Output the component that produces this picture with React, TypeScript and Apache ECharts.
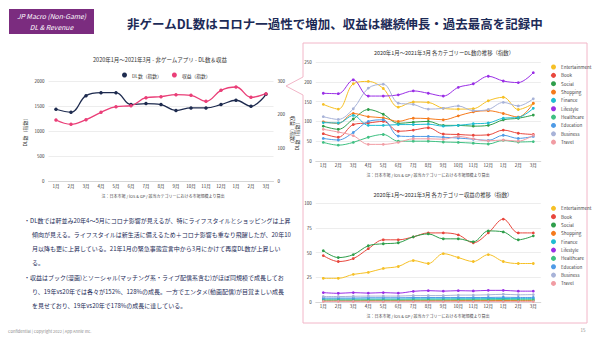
import React, { useEffect, useRef } from 'react';
import * as echarts from 'echarts';

const months = ['1月', '2月', '3月', '4月', '5月', '6月', '7月', '8月', '9月', '10月', '11月', '12月', '1月', '2月', '3月'];

const dlIndex = [1435, 1375, 1707, 1767, 1767, 1528, 1548, 1528, 1409, 1462, 1462, 1528, 1615, 1495, 1734];
const revenueIndex = [183, 170, 184, 206, 223, 226, 250, 253, 259, 257, 239, 272, 282, 251, 262];

const categories = ['Entertainment', 'Book', 'Social', 'Shopping', 'Finance', 'Lifestyle', 'Healthcare', 'Education', 'Business', 'Travel'];
const categoryColors = ['#f6c026', '#e8473d', '#2f9e4b', '#f57a1c', '#1fbcd2', '#9a2fe6', '#3fc082', '#4f9be6', '#a8b3d8', '#f19ca3'];

const dlEntertainment = [143, 131, 195, 201, 183, 136, 149, 148, 133, 131, 132, 152, 161, 130, 145];
const dlBook = [69, 60, 92, 96, 100, 75, 78, 84, 68, 67, 65, 66, 78, 70, 67];
const dlSocial = [88, 80, 106, 130, 118, 95, 98, 100, 90, 90, 88, 90, 104, 108, 116];
const dlShopping = [99, 95, 120, 112, 109, 100, 108, 107, 104, 114, 124, 127, 120, 111, 146];
const dlFinance = [97, 96, 115, 90, 90, 92, 92, 93, 88, 90, 94, 96, 108, 110, 133];
const dlLifestyle = [171, 170, 205, 164, 164, 167, 177, 171, 164, 186, 195, 214, 202, 198, 223];
const dlHealthcare = [47, 40, 47, 60, 67, 50, 50, 50, 48, 47, 45, 43, 52, 48, 49];
const dlEducation = [57, 53, 72, 100, 104, 63, 62, 62, 60, 58, 55, 52, 65, 57, 62];
const dlBusiness = [112, 105, 132, 184, 194, 146, 143, 131, 133, 139, 127, 130, 148, 139, 157];
const dlTravel = [80, 73, 64, 42, 42, 47, 56, 56, 55, 62, 56, 51, 53, 50, 65];

const revEntertainment = [24, 24, 28, 30, 34, 36, 42, 39, 49, 45, 41, 48, 41, 39, 39];
const revBook = [47, 41, 44, 54, 63, 63, 66, 70, 70, 68, 60, 70, 84, 70, 70];
const revSocial = [52, 45, 48, 57, 59, 60, 66, 69, 64, 64, 61, 72, 71, 63, 67];
const revShopping = [1.2, 1.2, 1.2, 1.3, 1.3, 1.3, 1.3, 1.3, 1.3, 1.4, 1.4, 1.4, 1.5, 1.4, 1.4];
const revFinance = [3, 3, 3, 3, 3, 3, 3.2, 3.2, 3.2, 3.3, 3.3, 3.4, 3.5, 3.4, 3.4];
const revLifestyle = [9.5, 8.8, 9.5, 9, 9.5, 9, 10.8, 11.5, 11, 11.5, 11.2, 11.8, 11.8, 11, 11];
const revHealthcare = [2, 2, 2, 2.1, 2.1, 2.1, 2.2, 2.2, 2.2, 2.3, 2.3, 2.3, 2.4, 2.3, 2.3];
const revEducation = [4, 4, 4, 4.3, 4.3, 4.3, 4.5, 4.5, 4.5, 4.5, 4.5, 4.6, 4.8, 4.6, 4.6];
const revBusiness = [5.5, 5.5, 5.8, 6, 6, 6, 6.5, 6.5, 6.5, 7, 7, 7.3, 7.8, 7.3, 7.5];
const revTravel = [0.6, 0.6, 0.5, 0.3, 0.3, 0.4, 0.4, 0.4, 0.4, 0.4, 0.4, 0.4, 0.4, 0.4, 0.4];

const dlSeriesData = [dlEntertainment, dlBook, dlSocial, dlShopping, dlFinance, dlLifestyle, dlHealthcare, dlEducation, dlBusiness, dlTravel];
const revSeriesData = [revEntertainment, revBook, revSocial, revShopping, revFinance, revLifestyle, revHealthcare, revEducation, revBusiness, revTravel];

const slideTitle = '非ゲームDL数はコロナ一過性で増加、収益は継続伸長・過去最高を記録中';
const leftTitle = '2020年1月～2021年3月 - 非ゲームアプリ - DL数＆収益';
const dlTitle = '2020年1月～2021年3月 各カテゴリーDL数の推移（指数）';
const revTitle = '2020年1月～2021年3月 各カテゴリー収益の推移（指数）';
const noteText = '注：日本市場 / iOS & GP / 該当カテゴリーにおける市場規模より算出';
const bulletLines = [
  '・DL数では軒並み20年4～5月にコロナ影響が見えるが、特にライフスタイルとショッピングは上昇',
  '傾向が見える。ライフスタイルは新生活に備えるため＋コロナ影響も重なり飛躍したが、20年10',
  '月以降も更に上昇している。21年1月の緊急事態宣言中から3月にかけて再度DL数が上昇しい',
  'る。',
  '・収益はブック(漫画)とソーシャル(マッチング系・ライブ配信系含む)がほぼ同規模で成長してお',
  'り、19年vs20年では各々が152%、128%の成長。一方でエンタメ(動画配信)が目覚ましい成長',
  'を見せており、19年vs20年で178%の成長に達している。',
];

const FONT = '"Noto Sans CJK JP", "Noto Sans", sans-serif';
const NAVY = '#1d2b57';

function txt(x: number, y: number, text: string, size: number, fill: string, align = 'left', extra: any = {}) {
  return {
    type: 'text',
    x,
    y,
    rotation: extra.rotation || 0,
    z: 10,
    style: {
      text,
      fill,
      fontSize: size,
      fontFamily: FONT,
      fontWeight: extra.fontWeight || 'normal',
      fontStyle: extra.fontStyle || 'normal',
      align,
      textAlign: align,
      verticalAlign: 'middle',
      textVerticalAlign: 'middle',
    },
  };
}

export default function App() {
  const ref = useRef<HTMLDivElement>(null);
  useEffect(() => {
    if (!ref.current) return;
    const chart = echarts.init(ref.current, null, { renderer: 'svg' });

    const axisLabel = { fontSize: 4.5, color: '#333', fontFamily: FONT };
    const xAxisBase = (gridIndex: number, margin: number) => ({
      type: 'category',
      gridIndex,
      data: months,
      boundaryGap: true,
      axisTick: { show: false },
      axisLine: { show: true, lineStyle: { color: '#d6d6d6' } },
      axisLabel: { ...axisLabel, margin, interval: 0 },
    });
    const yBase = (gridIndex: number, min: number, max: number, interval: number, extra: any = {}) => ({
      type: 'value',
      gridIndex,
      min,
      max,
      interval,
      axisLine: { show: false },
      axisTick: { show: false },
      axisLabel: { ...axisLabel, margin: 4, formatter: (v: number) => String(v) },
      splitLine: { show: true, lineStyle: { color: '#e8e8e8', width: 0.8 } },
      ...extra,
    });

    const series: any[] = [
      {
        name: 'DL数（指数）',
        type: 'line',
        xAxisIndex: 0,
        yAxisIndex: 0,
        data: dlIndex,
        smooth: 0.4,
        symbol: 'circle',
        symbolSize: 3.5,
        lineStyle: { width: 1.3, color: '#1e2b4f' },
        itemStyle: { color: '#1e2b4f' },
      },
      {
        name: '収益（指数）',
        type: 'line',
        xAxisIndex: 0,
        yAxisIndex: 1,
        data: revenueIndex,
        smooth: 0.4,
        symbol: 'circle',
        symbolSize: 3.5,
        lineStyle: { width: 1.3, color: '#ea3f78' },
        itemStyle: { color: '#ea3f78' },
      },
    ];
    categories.forEach((c, i) => {
      series.push({
        id: 'dl-' + c,
        name: c,
        type: 'line',
        xAxisIndex: 1,
        yAxisIndex: 2,
        data: dlSeriesData[i],
        smooth: 0.35,
        symbol: 'circle',
        symbolSize: 2.8,
        lineStyle: { width: 1, color: categoryColors[i] },
        itemStyle: { color: categoryColors[i] },
      });
    });
    categories.forEach((c, i) => {
      series.push({
        id: 'rev-' + c,
        name: c,
        type: 'line',
        xAxisIndex: 2,
        yAxisIndex: 3,
        data: revSeriesData[i],
        smooth: 0.35,
        symbol: 'circle',
        symbolSize: 2.8,
        lineStyle: { width: 1, color: categoryColors[i] },
        itemStyle: { color: categoryColors[i] },
      });
    });

    const legendRight = (top: number) => ({
      orient: 'vertical',
      left: 546,
      top,
      itemWidth: 5,
      itemHeight: 5,
      itemGap: 3.35,
      icon: 'circle',
      data: categories,
      textStyle: { fontSize: 4.5, color: '#444', fontFamily: FONT, lineHeight: 5 },
    });

    const graphic: any[] = [
      {
        type: 'polygon',
        z: 0,
        shape: {
          points: [
            [303, 43], [587, 43], [587, 323], [303, 323], [303, 95], [286, 86], [303, 77],
          ],
        },
        style: { fill: 'none', stroke: '#f2b6c8', lineWidth: 1 },
      },
      { type: 'rect', z: 5, shape: { x: 9, y: 9, width: 85, height: 25 }, style: { fill: '#7b2c7f' } },
      txt(51.5, 16, 'JP Macro (Non-Game)', 6.8, '#ffffff', 'center', { fontStyle: 'italic' }),
      txt(51.5, 27, 'DL & Revenue', 6.8, '#ffffff', 'center', { fontStyle: 'italic' }),
      txt(127, 23, slideTitle, 12.5, NAVY, 'left', { fontWeight: 'bold' }),
      txt(160, 60, leftTitle, 5.5, '#333', 'center'),
      txt(163, 196, noteText, 4, '#444', 'center'),
      txt(24, 131, 'DL数（指数）', 5, '#333', 'center', { rotation: Math.PI / 2 }),
      txt(293, 131, '収益（指数）', 5, '#333', 'center', { rotation: -Math.PI / 2 }),
      txt(444, 52.5, dlTitle, 5.4, '#333', 'center'),
      txt(428, 174.5, noteText, 4, '#444', 'center'),
      txt(296, 135, 'DL数（指数）', 5, '#333', 'center', { rotation: Math.PI / 2 }),
      txt(443, 194.5, revTitle, 5.4, '#333', 'center'),
      txt(428, 315.5, noteText, 4, '#444', 'center'),
      txt(8, 331, 'Confidential | Copyright 2022 | App Annie Inc.', 4, '#8a8a8a', 'left'),
      txt(583, 330, '15', 4.5, '#8a8a8a', 'center'),
    ];
    const lineYs = [220, 234, 248.5, 262.5, 277, 291, 305];
    bulletLines.forEach((l, i) => {
      const x = l.startsWith('・') ? 24 : 32;
      graphic.push(txt(x, lineYs[i], l, 6, NAVY, 'left'));
    });

    chart.setOption({
      animation: false,
      backgroundColor: '#ffffff',
      textStyle: { fontFamily: FONT },
      grid: [
        { left: 48.5, right: 326.5, top: 81, bottom: 157 },
        { left: 315.8, right: 59.2, top: 62, bottom: 177 },
        { left: 315.8, right: 59.2, top: 203.3, bottom: 36 },
      ],
      legend: [
        {
          left: 117,
          top: 67.5,
          itemWidth: 5,
          itemHeight: 5,
          itemGap: 10,
          icon: 'circle',
          data: ['DL数（指数）', '収益（指数）'],
          textStyle: { fontSize: 4.8, color: '#333', fontFamily: FONT },
        },
        legendRight(59.5),
        legendRight(200.8),
      ],
      xAxis: [xAxisBase(0, 3), xAxisBase(1, 2), xAxisBase(2, 2)],
      yAxis: [
        yBase(0, 0, 2000, 500),
        yBase(0, 0, 300, 100, { position: 'right', splitLine: { show: false } }),
        yBase(1, 0, 250, 50),
        yBase(2, 0, 100, 25),
      ],
      series,
      graphic,
    });
    return () => chart.dispose();
  }, []);
  return (
    <div
      ref={ref}
      style={{ position: 'absolute', left: 0, top: 0, width: 600, height: 338, background: '#fff' }}
    />
  );
}
